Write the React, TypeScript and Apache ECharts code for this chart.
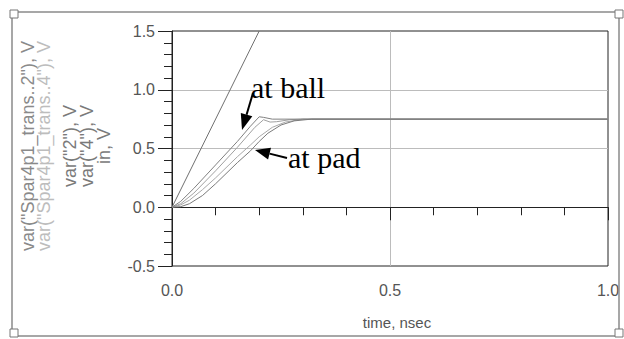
import React, { useEffect, useRef } from "react";
import * as echarts from "echarts";

// ---- data (time in ns, voltage in V) ----
const inRamp: [number, number][] = [
  [0, 0], [0.2, 1.5],
];
const var2: [number, number][] = [
  [0, 0], [0.02, 0.05], [0.05, 0.16], [0.1, 0.36], [0.15, 0.56], [0.18, 0.69], [0.2, 0.77],
  [0.21, 0.765], [0.23, 0.75], [0.3, 0.75], [1.0, 0.75],
];
const spar2: [number, number][] = [
  [0, 0], [0.02, 0.03], [0.05, 0.12], [0.1, 0.31], [0.15, 0.51], [0.19, 0.68], [0.21, 0.745],
  [0.225, 0.725], [0.24, 0.728], [0.27, 0.745], [0.3, 0.75], [1.0, 0.75],
];
const var4: [number, number][] = [
  [0, 0], [0.02, 0.005], [0.04, 0.03], [0.07, 0.1], [0.1, 0.2], [0.15, 0.38], [0.18, 0.48],
  [0.2, 0.56], [0.22, 0.63], [0.25, 0.7], [0.28, 0.735], [0.32, 0.75], [1.0, 0.75],
];
const spar4: [number, number][] = [
  [0, 0], [0.02, 0.02], [0.04, 0.06], [0.07, 0.15], [0.1, 0.25], [0.15, 0.43], [0.18, 0.53],
  [0.2, 0.6], [0.23, 0.68], [0.26, 0.725], [0.3, 0.75], [1.0, 0.75],
];

const yNameLines = [
  'var("Spar4p1_trans..2"), V',
  'var("Spar4p1_trans..4"), V',
  'var("2"), V',
  'var("4"), V',
  "in, V",
];
const yNameColors = ["#8a8a8a", "#bdbdbd", "#7a7a7a", "#7a7a7a", "#7a7a7a"];
const yNameX = [28, 44, 70, 87, 104];
const xName = "time, nsec";

function arrow(tail: [number, number], tip: [number, number], headLen: number, halfW: number) {
  const dx = tip[0] - tail[0];
  const dy = tip[1] - tail[1];
  const len = Math.sqrt(dx * dx + dy * dy);
  const ux = dx / len, uy = dy / len;
  const bx = tip[0] - headLen * ux, by = tip[1] - headLen * uy;
  const nx = -uy, ny = ux;
  return [
    {
      type: "line",
      shape: { x1: tail[0], y1: tail[1], x2: bx, y2: by },
      style: { stroke: "#000", lineWidth: 2 },
    },
    {
      type: "polygon",
      shape: {
        points: [
          [tip[0], tip[1]],
          [bx + halfW * nx, by + halfW * ny],
          [bx - halfW * nx, by - halfW * ny],
        ],
      },
      style: { fill: "#000" },
    },
  ];
}

export default function App() {
  const ref = useRef<HTMLDivElement>(null);
  useEffect(() => {
    if (!ref.current) return;
    const chart = echarts.init(ref.current, null, { renderer: "svg" });
    const font = "Liberation Sans, Arial, sans-serif";
    const serif = "Liberation Serif, Times New Roman, serif";
    const mkSeries = (name: string, data: [number, number][], color: string) => ({
      name,
      type: "line",
      data,
      showSymbol: false,
      symbol: "none",
      lineStyle: { color, width: 1 },
      clip: true,
      z: 3,
    });

    const corner = (cx: number, cy: number) => ({
      type: "rect",
      shape: { x: cx - 4, y: cy - 4, width: 8, height: 8 },
      style: { fill: "#fff", stroke: "#777", lineWidth: 1 },
      z: 10,
    });

    const graphics: any[] = [
      {
        type: "rect",
        shape: { x: 12, y: 12, width: 607, height: 324 },
        style: { fill: "none", stroke: "#8a8a8a", lineWidth: 1.5 },
        z: 9,
      },
      corner(14, 14),
      corner(14, 333),
      corner(619, 14),
      corner(619, 333),
      ...yNameLines.map((t, i) => ({
        type: "text",
        x: yNameX[i],
        y: 146,
        rotation: Math.PI / 2,
        style: {
          text: t,
          x: 0,
          y: 0,
          fill: yNameColors[i],
          font: `18px ${font}`,
          align: "center",
          verticalAlign: "middle",
          textAlign: "center",
          textVerticalAlign: "middle",
        },
      })),
      {
        type: "text",
        x: 397,
        y: 322,
        style: {
          text: xName,
          fill: "#555",
          font: `15px ${font}`,
          align: "center",
          verticalAlign: "middle",
          textAlign: "center",
          textVerticalAlign: "middle",
        },
      },
      {
        type: "text",
        x: 251,
        y: 102,
        style: {
          text: "at ball",
          fill: "#000",
          font: `30px ${serif}`,
          align: "left",
          verticalAlign: "alphabetic",
          textAlign: "left",
          textVerticalAlign: "bottom",
        },
        z: 20,
      },
      {
        type: "text",
        x: 288,
        y: 172,
        style: {
          text: "at pad",
          fill: "#000",
          font: `30px ${serif}`,
          align: "left",
          verticalAlign: "alphabetic",
          textAlign: "left",
          textVerticalAlign: "bottom",
        },
        z: 20,
      },
      ...arrow([253, 93], [242, 130], 16, 6).map((g) => ({ ...g, z: 20 })),
      ...arrow([287, 158], [255, 150], 15, 6).map((g) => ({ ...g, z: 20 })),
    ];

    chart.setOption({
      animation: false,
      backgroundColor: "#fff",
      grid: {
        left: 172,
        top: 31,
        right: 16,
        bottom: 73,
        show: true,
        borderColor: "#222",
        borderWidth: 1,
        backgroundColor: "#fff",
      },
      xAxis: {
        type: "value",
        min: 0,
        max: 1,
        interval: 0.5,
        axisLine: { show: true, lineStyle: { color: "#222", width: 1 } },
        axisTick: { show: true, inside: false, length: 13, lineStyle: { color: "#222" } },
        minorTick: { show: true, splitNumber: 5, length: 8, lineStyle: { color: "#222" } },
        axisLabel: {
          margin: 16,
          color: "#555",
          fontSize: 16,
          fontFamily: font,
          formatter: (v: number) => v.toFixed(1),
        },
        splitLine: { show: true, showMinLine: false, showMaxLine: false, lineStyle: { color: "#bcbcbc", width: 1 } },
      },
      yAxis: {
        type: "value",
        min: -0.5,
        max: 1.5,
        interval: 0.5,
        axisLine: { show: true, lineStyle: { color: "#222", width: 1 } },
        axisTick: { show: true, inside: false, length: 14, lineStyle: { color: "#222" } },
        minorTick: { show: true, splitNumber: 5, length: 8, lineStyle: { color: "#222" } },
        axisLabel: {
          margin: 17,
          color: "#555",
          fontSize: 16,
          fontFamily: font,
          formatter: (v: number) => v.toFixed(1),
        },
        splitLine: { show: true, showMinLine: false, showMaxLine: false, lineStyle: { color: "#bcbcbc", width: 1 } },
      },
      series: [
        mkSeries("in", inRamp, "#707070"),
        mkSeries('var("Spar4p1_trans..2")', spar2, "#a0a0a0"),
        mkSeries('var("Spar4p1_trans..4")', spar4, "#a8a8a8"),
        mkSeries('var("2")', var2, "#808080"),
        mkSeries('var("4")', var4, "#7a7a7a"),
      ],
      graphic: graphics,
    });
    return () => chart.dispose();
  }, []);
  return (
    <div
      ref={ref}
      style={{ position: "absolute", left: 0, top: 0, width: 624, height: 339 }}
    />
  );
}
